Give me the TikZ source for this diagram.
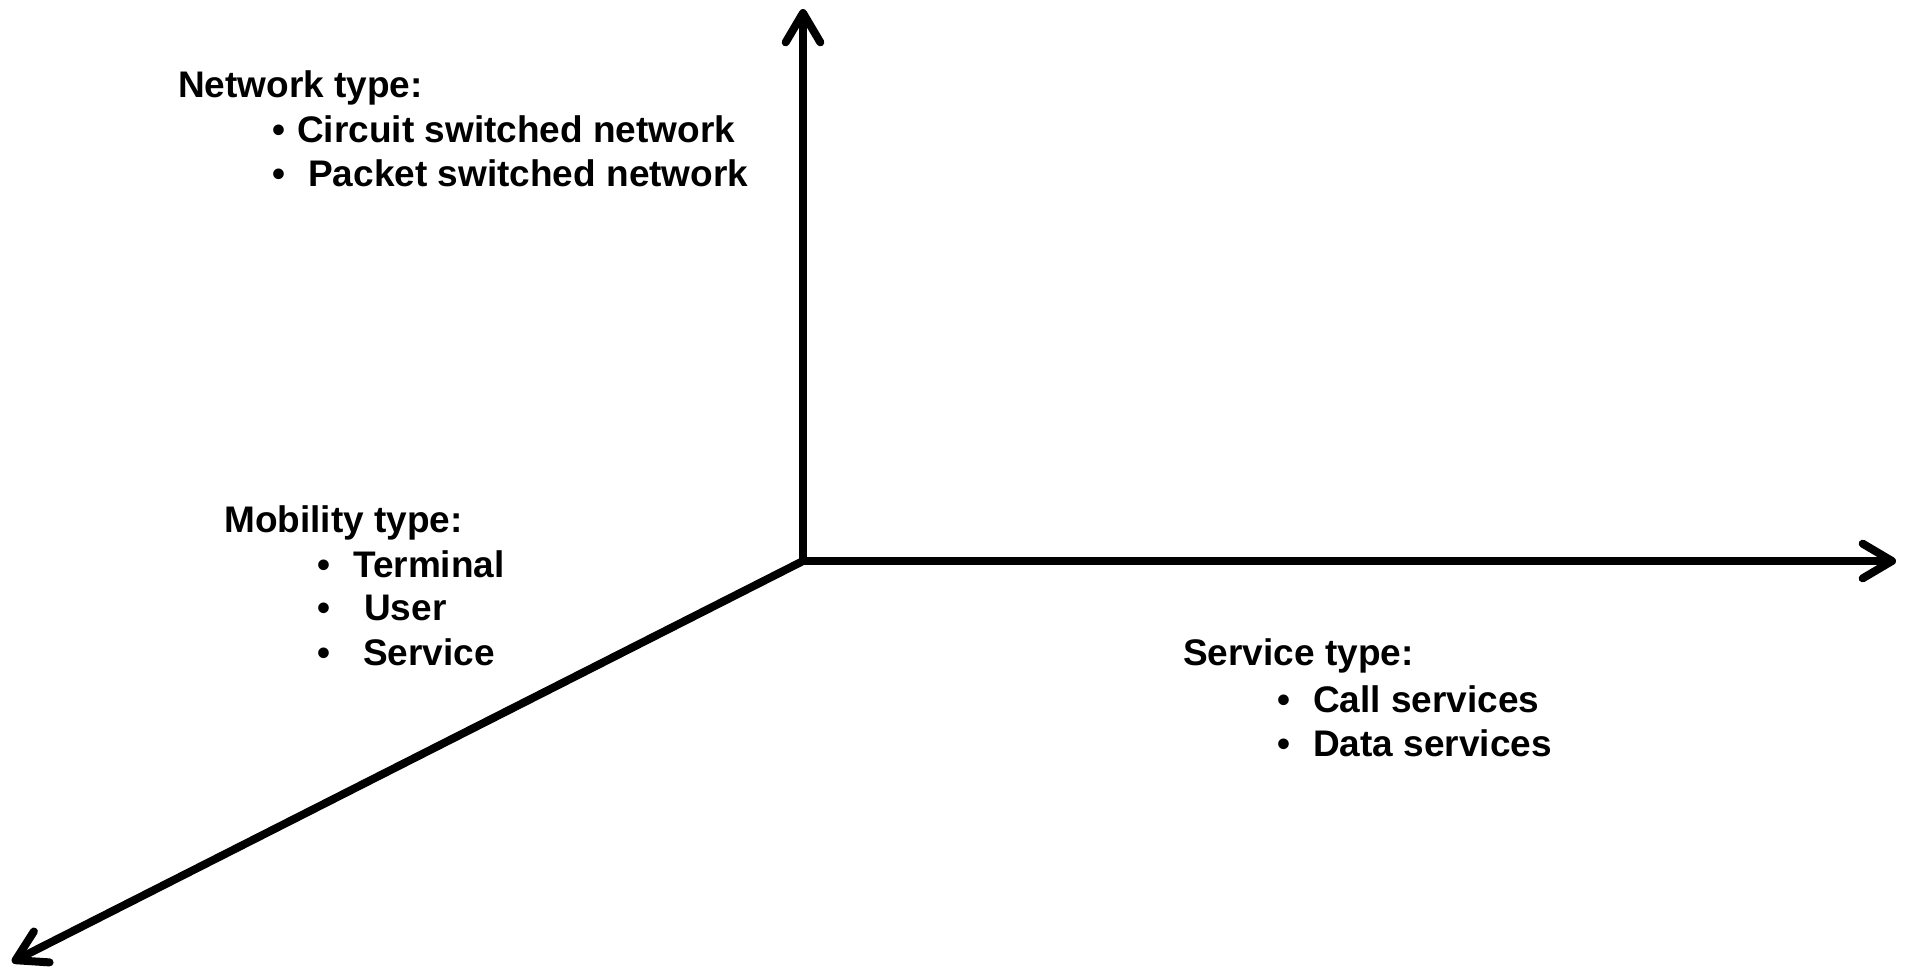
\documentclass[tikz,border=0pt]{standalone}
\usepackage{fontspec}
\setmainfont{Liberation Sans}
\usetikzlibrary{arrows.meta}

% bullet hung to the left of an item, with a gap before the text
\newcommand{\bul}[1]{\llap{\textbullet\hspace{#1}}}

\begin{document}
\begin{tikzpicture}[x=0.75pt,y=-0.75pt,
    axis/.style={line width=6pt,arrows={Straight Barb[length=22pt,width=26pt,round]-Straight Barb[length=22pt,width=26pt,round]}},
    axisone/.style={line width=6pt,arrows={-Straight Barb[length=22pt,width=26pt,round]}},
    lbl/.style={anchor=base west,inner sep=0pt,font=\bfseries\fontsize{27.75pt}{33pt}\selectfont}]
\useasboundingbox (0,0) rectangle (1906,968);
% axes
\coordinate (o) at (803,561);
\coordinate (nettip) at (803,9);
\coordinate (srvtip) at (1896,561);
\coordinate (mobtip) at (12,962);
\draw[axis,line join=miter] (nettip) -- (o) -- (srvtip);
\draw[axisone] (o) -- (mobtip);
% network type
\node[lbl] (net) at (178,97) {Network type:};
\node[lbl] (netA) at (297,142) {\bul{8.6pt}Circuit switched network};
\node[lbl] (netB) at (308,186) {\bul{16.9pt}Packet switched network};
% mobility type
\node[lbl] (mob) at (224,532) {Mobility type:};
\node[lbl] (mobA) at (353,577) {\bul{16.9pt}Terminal};
\node[lbl] (mobB) at (364,620) {\bul{25pt}User};
\node[lbl] (mobC) at (363,665) {\bul{24.4pt}Service};
% service type
\node[lbl] (srv) at (1183,665) {Service type:};
\node[lbl] (srvA) at (1313,712) {\bul{16.9pt}Call services};
\node[lbl] (srvB) at (1313,756) {\bul{16.9pt}Data services};
\end{tikzpicture}
\end{document}
